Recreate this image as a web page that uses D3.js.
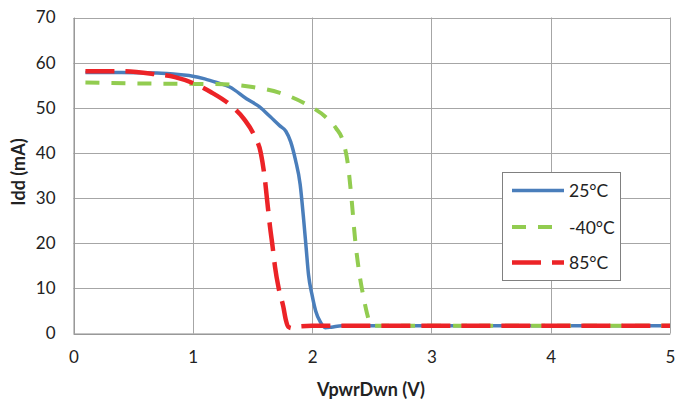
<!DOCTYPE html>
<html>
<head>
<meta charset="utf-8">
<script src="https://cdn.jsdelivr.net/npm/d3@7"></script>
<style>
  html, body { margin: 0; padding: 0; background: #fff; }
  svg { display: block; }
  text { font-family: Lato, "Open Sans", sans-serif; fill: #222; }
</style>
</head>
<body>
<svg id="chart" width="675" height="405"></svg>
<script>
// Supply current vs. power-down pin voltage at three temperatures
const xTicks = [0, 1, 2, 3, 4, 5];
const yTicks = [0, 10, 20, 30, 40, 50, 60, 70];
const seriesNames = ["25°C", "-40°C", "85°C"];

const v25 = [0.1, 0.4, 0.7, 0.9, 1.0, 1.1, 1.2, 1.31, 1.45, 1.56, 1.65, 1.73, 1.78, 1.82, 1.86, 1.9, 1.93, 1.95, 1.97, 2.0, 2.03, 2.07, 2.11, 2.16, 2.25, 2.6, 3, 3.5, 4, 4.5, 5];
const i25 = [57.8, 57.8, 57.7, 57.3, 57.0, 56.4, 55.6, 54.6, 52.0, 50.2, 48.0, 46.0, 44.8, 42.5, 38.5, 33.0, 25.0, 19.0, 13.0, 8.5, 5.0, 2.5, 1.3, 1.4, 1.7, 1.7, 1.7, 1.7, 1.7, 1.7, 1.7];

const vM40 = [0.1, 0.5, 1.0, 1.26, 1.5, 1.73, 1.95, 2.12, 2.2, 2.26, 2.3, 2.33, 2.36, 2.396, 2.43, 2.46, 2.49, 2.52, 2.7, 3, 3.5, 4, 4.5, 5];
const iM40 = [55.6, 55.4, 55.3, 55.2, 54.6, 53.3, 50.8, 47.8, 45.5, 42.5, 37.5, 30.0, 21.0, 13.3, 8.2, 4.5, 2.0, 1.7, 1.7, 1.7, 1.7, 1.7, 1.7, 1.7];

const v85 = [0.1, 0.4, 0.67, 0.85, 1.0, 1.15, 1.31, 1.43, 1.52, 1.57, 1.605, 1.625, 1.647, 1.67, 1.689, 1.72, 1.759, 1.78, 1.8, 1.83, 1.9, 2.0, 2.5, 3, 3.5, 4, 4.5, 5];
const i85 = [58.1, 58.1, 57.5, 56.8, 55.5, 53.5, 50.7, 47.5, 43.6, 40.0, 34.0, 29.0, 23.7, 19.0, 14.8, 10.0, 5.9, 3.0, 1.5, 1.2, 1.6, 1.7, 1.7, 1.7, 1.7, 1.7, 1.7, 1.7];

const series = [
  { name: seriesNames[0], v: v25, i: i25, color: "#4a7ebb", width: 3.5, dash: null },
  { name: seriesNames[1], v: vM40, i: iM40, color: "#92cc50", width: 4, dash: "14,12" },
  { name: seriesNames[2], v: v85, i: i85, color: "#ec2327", width: 4.5, dash: "29,11" }
];

const svg = d3.select("#chart");
const plot = { left: 73.5, right: 670, top: 17.5, bottom: 333.5 };

const x = d3.scaleLinear().domain([0, 5]).range([plot.left, plot.right]);
const y = d3.scaleLinear().domain([0, 70]).range([plot.bottom, plot.top]);

// Gridlines
const grid = svg.append("g");
grid.selectAll("line.h").data(yTicks).join("line")
  .attr("x1", plot.left).attr("x2", plot.right)
  .attr("y1", d => Math.round(y(d)) + 0.5).attr("y2", d => Math.round(y(d)) + 0.5)
  .attr("stroke", "#a6a6a6").attr("stroke-width", 1);
grid.selectAll("line.v").data(xTicks).join("line")
  .attr("y1", plot.top).attr("y2", plot.bottom)
  .attr("x1", d => Math.round(x(d)) + 0.5).attr("x2", d => Math.round(x(d)) + 0.5)
  .attr("stroke", "#a6a6a6").attr("stroke-width", 1);

// Axes (labels only, no tick marks)
const yAxis = svg.append("g")
  .attr("transform", `translate(${plot.left},0)`)
  .call(d3.axisLeft(y).tickValues(yTicks).tickSize(0).tickPadding(18).tickFormat(d3.format("d")));
yAxis.select(".domain").attr("stroke", "#8c8c8c");
yAxis.selectAll("text").style("font-size", "17px").attr("fill", "#222");

const xAxis = svg.append("g")
  .attr("transform", `translate(0,${plot.bottom})`)
  .call(d3.axisBottom(x).tickValues(xTicks).tickSize(0).tickPadding(17).tickFormat(d3.format("d")));
xAxis.select(".domain").attr("stroke", "#8c8c8c");
xAxis.selectAll("text").style("font-size", "17px").attr("fill", "#222");

// Axis titles
svg.append("text")
  .attr("x", 371).attr("y", 396)
  .attr("text-anchor", "middle")
  .style("font-size", "18px").style("font-weight", "bold")
  .text("VpwrDwn (V)");
svg.append("text")
  .attr("transform", "translate(25,172) rotate(-90)")
  .attr("text-anchor", "middle")
  .style("font-size", "18px").style("font-weight", "bold")
  .text("Idd (mA)");

// Curves
const line = d3.line()
  .x(d => x(d[0]))
  .y(d => y(d[1]))
  .curve(d3.curveMonotoneX);

svg.append("g").selectAll("path").data(series).join("path")
  .attr("d", s => line(s.v.map((v, k) => [v, s.i[k]])))
  .attr("fill", "none")
  .attr("stroke", s => s.color)
  .attr("stroke-width", s => s.width)
  .attr("stroke-dasharray", s => s.dash)
  .attr("stroke-linejoin", "round");

// Legend
const legend = svg.append("g");
legend.append("rect")
  .attr("x", 502.5).attr("y", 172.5).attr("width", 118).attr("height", 108)
  .attr("fill", "#fff").attr("stroke", "#808080").attr("stroke-width", 1);
const rowY = [190.5, 227, 262.5];
const items = legend.selectAll("g.item").data(series).join("g")
  .attr("transform", (s, k) => `translate(0,${rowY[k]})`);
items.append("line")
  .attr("x1", 512).attr("x2", 564).attr("y1", 0).attr("y2", 0)
  .attr("stroke", s => s.color)
  .attr("stroke-width", s => s.width)
  .attr("stroke-dasharray", s => s.dash);
items.append("text")
  .attr("x", 569).attr("y", 6.5)
  .style("font-size", "17.5px")
  .text(s => s.name);
</script>
</body>
</html>
